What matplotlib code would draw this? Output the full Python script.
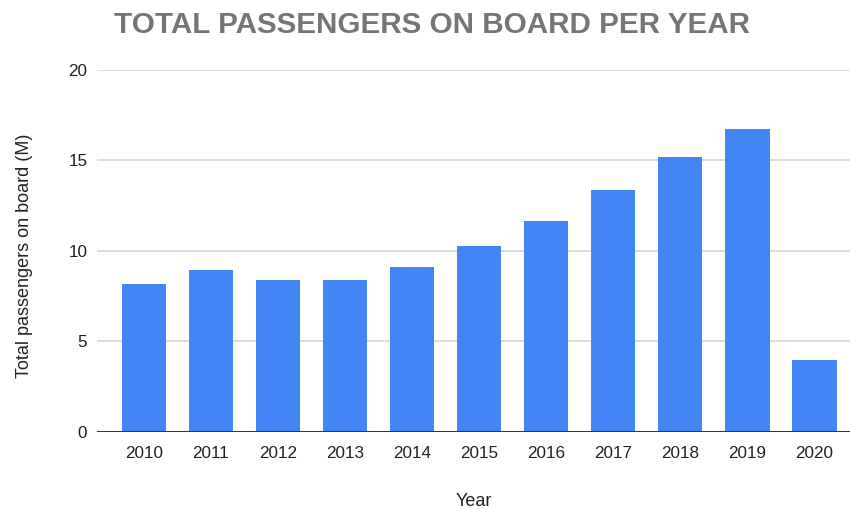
import matplotlib
matplotlib.use("Agg")
import matplotlib.pyplot as plt

years = ["2010", "2011", "2012", "2013", "2014", "2015",
         "2016", "2017", "2018", "2019", "2020"]
passengers = [8.16, 8.92, 8.40, 8.40, 9.08, 10.24,
              11.67, 13.35, 15.19, 16.71, 3.95]
y_ticks = [0, 5, 10, 15, 20]

plt.rcParams["font.family"] = ["Liberation Sans", "DejaVu Sans"]

fig = plt.figure(figsize=(8.5, 5.09), dpi=100)
ax = fig.add_axes([0.1141, 0.1519, 0.8859, 0.7106])

x = list(range(len(years)))
ax.bar(x, passengers, width=0.66, color="#4285F4", zorder=3)

ax.set_ylim(0, 20)
ax.set_xlim(-0.7, 10.53)
ax.set_yticks(y_ticks)
ax.set_yticklabels([str(t) for t in y_ticks])
ax.set_xticks(x)
ax.set_xticklabels(years)

ax.grid(axis="y", color="#d9d9d9", linewidth=1.3, zorder=0)
ax.axhline(0, color="#333333", linewidth=1.4, zorder=4)

for s in ["top", "right", "left", "bottom"]:
    ax.spines[s].set_visible(False)

ax.tick_params(axis="both", length=0, labelsize=12.3, colors="#222222")
ax.tick_params(axis="x", pad=10)
ax.tick_params(axis="y", pad=7)

ax.set_xlabel("Year", fontsize=13, color="#222222", labelpad=23)
ax.set_ylabel("Total passengers on board (M)", fontsize=13,
              color="#222222")
ax.yaxis.set_label_coords(-0.085, 0.486)

fig.text(0.508, 0.951, "TOTAL PASSENGERS ON BOARD PER YEAR",
         ha="center", va="center", fontsize=21.3, fontweight="bold",
         color="#757575")

fig.savefig("out.png", dpi=100)
